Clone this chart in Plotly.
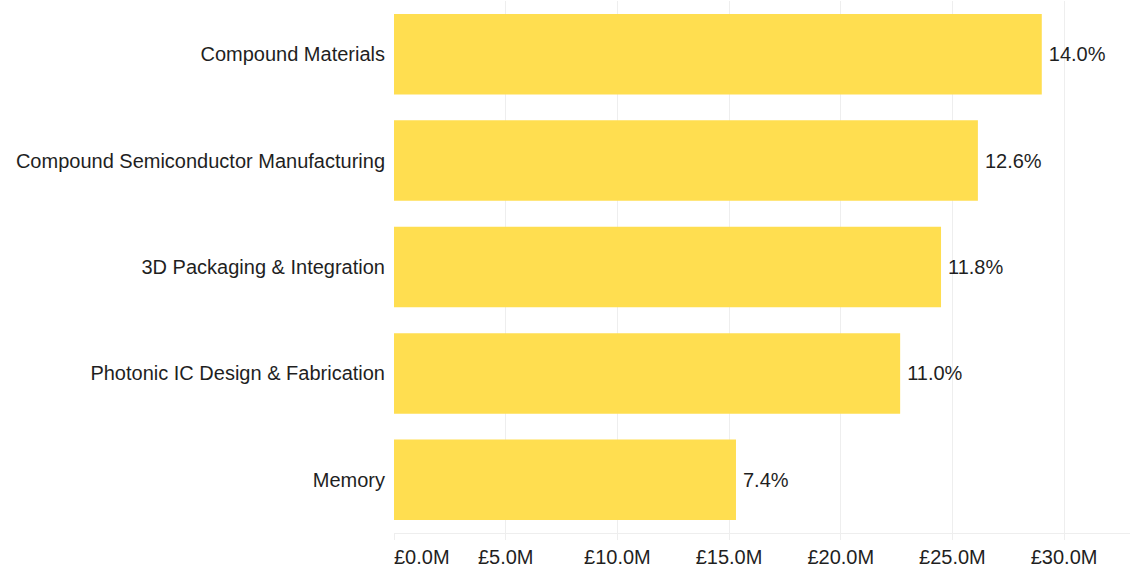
import plotly.graph_objects as go

categories = [
    "Compound Materials",
    "Compound Semiconductor Manufacturing",
    "3D Packaging & Integration",
    "Photonic IC Design & Fabrication",
    "Memory",
]
values_m = [29.0, 26.14, 24.49, 22.66, 15.31]
share_pct = [14.0, 12.6, 11.8, 11.0, 7.4]

tick_vals = [0, 5, 10, 15, 20, 25, 30]
tick_text = ["\u00a0" * 10 + "£0.0M", "£5.0M", "£10.0M", "£15.0M", "£20.0M", "£25.0M", "£30.0M"]

font_family = "Liberation Sans, Arial, sans-serif"
text_color = "#1F1F1F"

fig = go.Figure(
    go.Bar(
        x=values_m,
        y=categories,
        orientation="h",
        marker=dict(color="#FFDE50", line=dict(width=0)),
        text=["\u2009" + f"{p:.1f}%" for p in share_pct],
        textposition="outside",
        cliponaxis=False,
        textfont=dict(family=font_family, size=20, color=text_color),
    )
)

fig.update_layout(
    width=1130,
    height=568,
    margin=dict(l=394, r=0, t=1, b=30),
    paper_bgcolor="white",
    plot_bgcolor="white",
    bargap=0.243,
    showlegend=False,
    font=dict(family=font_family, size=20, color=text_color),
)

fig.update_xaxes(
    range=[0, 32.95],
    tickvals=tick_vals,
    ticktext=tick_text,
    showgrid=True,
    gridcolor="#EEEEEE",
    gridwidth=1,
    zeroline=False,
    showline=True,
    linecolor="#EEEEEE",
    linewidth=1,
    ticks="outside",
    ticklen=6,
    tickcolor="#EEEEEE",
    tickfont=dict(family=font_family, size=20, color=text_color),
)

fig.update_yaxes(
    categoryorder="array",
    categoryarray=categories[::-1],
    autorange=False,
    range=[-0.5, 4.5],
    showgrid=False,
    zeroline=False,
    showline=False,
    ticks="",
    ticklabelstandoff=8,
    tickfont=dict(family=font_family, size=20, color=text_color),
)

fig.write_html(
    "out.html",
    config={"displayModeBar": False},
    post_script="document.body.style.margin='0';document.body.style.padding='0';document.body.style.overflow='hidden';",
)
